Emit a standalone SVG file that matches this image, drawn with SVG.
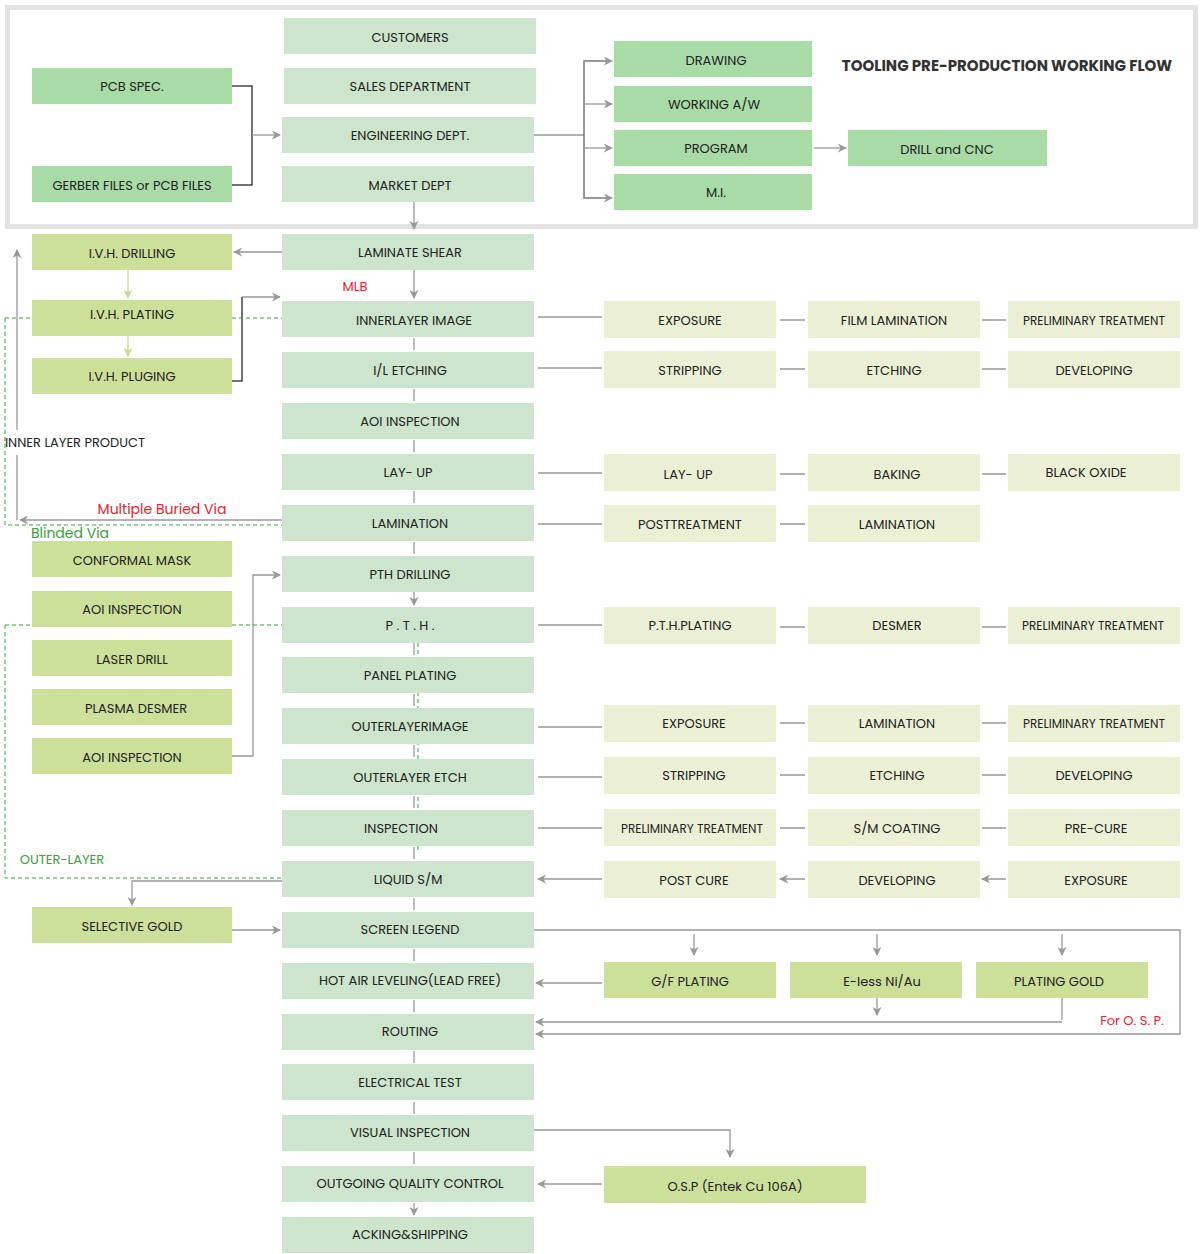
<svg xmlns="http://www.w3.org/2000/svg" width="1200" height="1254" viewBox="0 0 1200 1254">
<defs>
<marker id="a" viewBox="0 0 10 10" refX="9" refY="5" markerWidth="9" markerHeight="9" orient="auto" markerUnits="userSpaceOnUse"><path d="M0,0 L10,5 L0,10 L3,5 Z" fill="#999"/></marker>
<marker id="g" viewBox="0 0 10 10" refX="9" refY="5" markerWidth="9" markerHeight="9" orient="auto" markerUnits="userSpaceOnUse"><path d="M0,0 L10,5 L0,10 L3,5 Z" fill="#c5dc8e"/></marker>
</defs>
<style>
text{font-family:Poppins,"Open Sans","Liberation Sans",sans-serif;font-size:13px;fill:#222;text-anchor:middle;dominant-baseline:central}
.m{fill:#cde5cc}.t{fill:#a8dba6}.l{fill:#cde09a}.r{fill:#ebf0d5}
.c{stroke:#999;stroke-width:1.3;fill:none}
.k{stroke:#444;stroke-width:1.5;fill:none}
.d{stroke:#3aa03a;stroke-width:1;stroke-dasharray:4 3;fill:none}
</style>
<rect x="7.5" y="7.5" width="1188" height="219" fill="#fff" stroke="#e3e3e3" stroke-width="5"/>
<text x="1007" y="65" style="font-weight:bold;font-size:15px;fill:#333">TOOLING PRE-PRODUCTION WORKING FLOW</text>
<g id="connectors">
<path class="k" d="M232,86 H252 V185 H232"/>
<path class="c" d="M252,135 H280" marker-end="url(#a)"/>
<path class="c" d="M534,135 H584"/>
<path class="k" d="M612,61 H584 V198 H612" style="stroke:#777"/>
<path class="c" d="M584,61 H612" marker-end="url(#a)"/>
<path class="c" d="M584,104 H612" marker-end="url(#a)"/>
<path class="c" d="M584,148 H612" marker-end="url(#a)"/>
<path class="c" d="M584,198 H612" marker-end="url(#a)"/>
<path class="c" d="M814,148 H846" marker-end="url(#a)"/>
<path class="c" d="M414,202 V229" marker-end="url(#a)"/>
<path class="c" d="M282,252 H234" marker-end="url(#a)"/>
<path class="c" d="M414,270 V298" marker-end="url(#a)"/>
<path class="c" d="M128,252 V298" style="stroke:#c5dc8e" marker-end="url(#g)"/>
<path class="c" d="M128,336 V356" style="stroke:#c5dc8e" marker-end="url(#g)"/>
<path class="k" d="M232,381 H242 V297"/>
<path class="c" d="M242,297 H280" marker-end="url(#a)"/>
<path class="d" d="M5,318 H32 M232,318 H282 M5,318 V525 H282"/>
<path class="c" d="M282,520 H20" marker-end="url(#a)"/>
<path class="c" d="M17,520 V455 M17,430 V250" marker-end="url(#a)"/>
<path class="c" d="M414,590 V605" marker-end="url(#a)"/>
<path class="c" d="M232,756 H253 V575 H280" marker-end="url(#a)"/>
<path class="d" d="M5,625 H32 M232,625 H282 M5,625 V878 H282"/>
<path class="c" d="M282,881 H132 V905" marker-end="url(#a)"/>
<path class="c" d="M232,930 H280" marker-end="url(#a)"/>
<path class="c" d="M534,930 H1180 V1034 H536" marker-end="url(#a)"/>
<path class="c" d="M694,934 V955" marker-end="url(#a)"/>
<path class="c" d="M877,934 V955" marker-end="url(#a)"/>
<path class="c" d="M1062,934 V955" marker-end="url(#a)"/>
<path class="c" d="M877,998 V1015" marker-end="url(#a)"/>
<path class="c" d="M1062,998 V1020"/>
<path class="c" d="M1062,1022 H536" marker-end="url(#a)"/>
<path class="c" d="M602,983 H536" marker-end="url(#a)"/>
<path class="c" d="M534,1130 H730 V1157" marker-end="url(#a)"/>
<path class="c" d="M602,1184 H538" marker-end="url(#a)"/>
<path class="c" d="M414,338 V350 M414,389 V401 M414,440 V452 M414,491 V503 M414,542 V554 M414,643 V655 M414,694 V706 M414,745 V757 M414,796 V808 M414,847 V859 M414,898 V910 M414,949 V961 M414,1000 V1012 M414,1051 V1063 M414,1102 V1114 M414,1152 V1164 M414,1203 V1215" marker-end="url(#a)"/>
<path class="d" d="M418,643 V850"/>
<path class="c" d="M602,317 H538 M602,368 H538 M602,473 H538 M602,524 H538 M602,625 H538 M602,727 H538 M602,777 H538 M602,828 H538 M602,879 H538" marker-end="url(#a)"/>
<path class="c" d="M805,320 H780 M805,369 H780 M805,474 H780 M805,524 H780 M805,627 H780 M805,723 H780 M805,775 H780 M805,828 H780 M805,879 H780" marker-end="url(#a)"/>
<path class="c" d="M1006,320 H982 M1006,369 H982 M1006,474 H982 M1006,627 H982 M1006,723 H982 M1006,775 H982 M1006,828 H982 M1006,879 H982" marker-end="url(#a)"/>
</g>
<g id="labels">
<text x="355" y="286" style="fill:#e8232a">MLB</text>
<text x="75" y="442">INNER LAYER PRODUCT</text>
<text x="162" y="509" style="fill:#e8232a;font-size:14px">Multiple Buried Via</text>
<text x="70" y="533" style="fill:#3aa03a;font-size:14px">Blinded Via</text>
<text x="62" y="859" style="fill:#3aa03a">OUTER-LAYER</text>
<text x="1132" y="1020" style="fill:#e8232a">For O. S. P.</text>
</g>
<g id="n-customers"><rect class="m" x="284" y="18" width="252" height="36"/><text x="410" y="37">CUSTOMERS</text></g>
<g id="n-sales"><rect class="m" x="284" y="68" width="252" height="36"/><text x="410" y="86">SALES DEPARTMENT</text></g>
<g id="n-eng"><rect class="m" x="282" y="117" width="252" height="36"/><text x="410" y="135">ENGINEERING DEPT.</text></g>
<g id="n-market"><rect class="m" x="282" y="166" width="252" height="36"/><text x="410" y="185">MARKET DEPT</text></g>
<g id="n-pcbspec"><rect class="t" x="32" y="68" width="200" height="36"/><text x="132" y="86">PCB SPEC.</text></g>
<g id="n-gerber"><rect class="t" x="32" y="166" width="200" height="36"/><text x="132" y="185">GERBER FILES or PCB FILES</text></g>
<g id="n-drawing"><rect class="t" x="614" y="41" width="198" height="36"/><text x="716" y="60">DRAWING</text></g>
<g id="n-working"><rect class="t" x="614" y="86" width="198" height="36"/><text x="714" y="104">WORKING A/W</text></g>
<g id="n-program"><rect class="t" x="614" y="130" width="198" height="36"/><text x="716" y="148">PROGRAM</text></g>
<g id="n-mi"><rect class="t" x="614" y="174" width="198" height="36"/><text x="716" y="192">M.I.</text></g>
<g id="n-drill"><rect class="t" x="848" y="130" width="199" height="36"/><text x="947" y="149">DRILL and CNC</text></g>
<g id="n-ivhd"><rect class="l" x="32" y="234" width="200" height="36"/><text x="132" y="253">I.V.H.  DRILLING</text></g>
<g id="n-ivhp"><rect class="l" x="32" y="300" width="200" height="36"/><text x="132" y="314">I.V.H.  PLATING</text></g>
<g id="n-ivhg"><rect class="l" x="32" y="358" width="200" height="36"/><text x="132" y="376">I.V.H.  PLUGING</text></g>
<g id="n-conf"><rect class="l" x="32" y="541" width="200" height="36"/><text x="132" y="560">CONFORMAL MASK</text></g>
<g id="n-aoi1"><rect class="l" x="32" y="591" width="200" height="36"/><text x="132" y="609">AOI INSPECTION</text></g>
<g id="n-laser"><rect class="l" x="32" y="640" width="200" height="36"/><text x="132" y="659">LASER DRILL</text></g>
<g id="n-plasma"><rect class="l" x="32" y="689" width="200" height="36"/><text x="136" y="708">PLASMA DESMER</text></g>
<g id="n-aoi2"><rect class="l" x="32" y="738" width="200" height="36"/><text x="132" y="757">AOI INSPECTION</text></g>
<g id="n-selgold"><rect class="l" x="32" y="907" width="200" height="36"/><text x="132" y="926">SELECTIVE GOLD</text></g>
<g id="n-shear"><rect class="m" x="282" y="234" width="252" height="36"/><text x="410" y="252">LAMINATE SHEAR</text></g>
<g id="n-inner"><rect class="m" x="282" y="301" width="252" height="36"/><text x="414" y="320">INNERLAYER IMAGE</text></g>
<g id="n-iletch"><rect class="m" x="282" y="352" width="252" height="36"/><text x="410" y="370">I/L  ETCHING</text></g>
<g id="n-aoi"><rect class="m" x="282" y="403" width="252" height="36"/><text x="410" y="421">AOI  INSPECTION</text></g>
<g id="n-layup"><rect class="m" x="282" y="454" width="252" height="36"/><text x="408" y="472">LAY- UP</text></g>
<g id="n-lam"><rect class="m" x="282" y="505" width="252" height="36"/><text x="410" y="523">LAMINATION</text></g>
<g id="n-pthd"><rect class="m" x="282" y="556" width="252" height="36"/><text x="410" y="574">PTH DRILLING</text></g>
<g id="n-pth"><rect class="m" x="282" y="607" width="252" height="36"/><text x="410" y="625">P . T . H .</text></g>
<g id="n-panel"><rect class="m" x="282" y="657" width="252" height="36"/><text x="410" y="675">PANEL PLATING</text></g>
<g id="n-outimg"><rect class="m" x="282" y="708" width="252" height="36"/><text x="410" y="726">OUTERLAYERIMAGE</text></g>
<g id="n-outetch"><rect class="m" x="282" y="759" width="252" height="36"/><text x="410" y="777">OUTERLAYER ETCH</text></g>
<g id="n-insp"><rect class="m" x="282" y="810" width="252" height="36"/><text x="401" y="828">INSPECTION</text></g>
<g id="n-lsm"><rect class="m" x="282" y="861" width="252" height="36"/><text x="408" y="879">LIQUID  S/M</text></g>
<g id="n-screen"><rect class="m" x="282" y="912" width="252" height="36"/><text x="410" y="929">SCREEN LEGEND</text></g>
<g id="n-hal"><rect class="m" x="282" y="963" width="252" height="36"/><text x="410" y="980">HOT AIR LEVELING(LEAD FREE)</text></g>
<g id="n-routing"><rect class="m" x="282" y="1014" width="252" height="36"/><text x="410" y="1031">ROUTING</text></g>
<g id="n-et"><rect class="m" x="282" y="1064" width="252" height="36"/><text x="410" y="1082">ELECTRICAL TEST</text></g>
<g id="n-vis"><rect class="m" x="282" y="1115" width="252" height="36"/><text x="410" y="1132">VISUAL INSPECTION</text></g>
<g id="n-oqc"><rect class="m" x="282" y="1166" width="252" height="36"/><text x="410" y="1183">OUTGOING QUALITY CONTROL</text></g>
<g id="n-ship"><rect class="m" x="282" y="1217" width="252" height="36"/><text x="410" y="1234">ACKING&amp;SHIPPING</text></g>
<g id="n-r1a"><rect class="r" x="604" y="301" width="172" height="37"/><text x="690" y="320">EXPOSURE</text></g>
<g id="n-r1b"><rect class="r" x="808" y="301" width="172" height="37"/><text x="894" y="320">FILM LAMINATION</text></g>
<g id="n-r1c"><rect class="r" x="1008" y="301" width="172" height="37"/><text x="1094" y="320" style="font-size:12px">PRELIMINARY   TREATMENT</text></g>
<g id="n-r2a"><rect class="r" x="604" y="351" width="172" height="37"/><text x="690" y="370">STRIPPING</text></g>
<g id="n-r2b"><rect class="r" x="808" y="351" width="172" height="37"/><text x="894" y="370">ETCHING</text></g>
<g id="n-r2c"><rect class="r" x="1008" y="351" width="172" height="37"/><text x="1094" y="370">DEVELOPING</text></g>
<g id="n-r3a"><rect class="r" x="604" y="454" width="172" height="37"/><text x="688" y="474">LAY- UP</text></g>
<g id="n-r3b"><rect class="r" x="808" y="454" width="172" height="37"/><text x="897" y="474">BAKING</text></g>
<g id="n-r3c"><rect class="r" x="1008" y="454" width="172" height="37"/><text x="1086" y="472">BLACK OXIDE</text></g>
<g id="n-r4a"><rect class="r" x="604" y="505" width="172" height="37"/><text x="690" y="524">POSTTREATMENT</text></g>
<g id="n-r4b"><rect class="r" x="808" y="505" width="172" height="37"/><text x="897" y="524">LAMINATION</text></g>
<g id="n-r5a"><rect class="r" x="604" y="607" width="172" height="37"/><text x="690" y="625">P.T.H.PLATING</text></g>
<g id="n-r5b"><rect class="r" x="808" y="607" width="172" height="37"/><text x="897" y="625">DESMER</text></g>
<g id="n-r5c"><rect class="r" x="1008" y="607" width="172" height="37"/><text x="1093" y="625" style="font-size:12px">PRELIMINARY  TREATMENT</text></g>
<g id="n-r6a"><rect class="r" x="604" y="705" width="172" height="37"/><text x="694" y="723">EXPOSURE</text></g>
<g id="n-r6b"><rect class="r" x="808" y="705" width="172" height="37"/><text x="897" y="723">LAMINATION</text></g>
<g id="n-r6c"><rect class="r" x="1008" y="705" width="172" height="37"/><text x="1094" y="723" style="font-size:12px">PRELIMINARY    TREATMENT</text></g>
<g id="n-r7a"><rect class="r" x="604" y="757" width="172" height="37"/><text x="694" y="775">STRIPPING</text></g>
<g id="n-r7b"><rect class="r" x="808" y="757" width="172" height="37"/><text x="897" y="775">ETCHING</text></g>
<g id="n-r7c"><rect class="r" x="1008" y="757" width="172" height="37"/><text x="1094" y="775">DEVELOPING</text></g>
<g id="n-r8a"><rect class="r" x="604" y="809" width="172" height="37"/><text x="692" y="828" style="font-size:12px">PRELIMINARY  TREATMENT</text></g>
<g id="n-r8b"><rect class="r" x="808" y="809" width="172" height="37"/><text x="897" y="828">S/M COATING</text></g>
<g id="n-r8c"><rect class="r" x="1008" y="809" width="172" height="37"/><text x="1096" y="828">PRE-CURE</text></g>
<g id="n-r9a"><rect class="r" x="604" y="861" width="172" height="37"/><text x="694" y="880">POST CURE</text></g>
<g id="n-r9b"><rect class="r" x="808" y="861" width="172" height="37"/><text x="897" y="880">DEVELOPING</text></g>
<g id="n-r9c"><rect class="r" x="1008" y="861" width="172" height="37"/><text x="1096" y="880">EXPOSURE</text></g>
<g id="n-gf"><rect class="l" x="604" y="962" width="172" height="36"/><text x="690" y="981">G/F PLATING</text></g>
<g id="n-eless"><rect class="l" x="790" y="962" width="172" height="36"/><text x="882" y="981">E-less Ni/Au</text></g>
<g id="n-pgold"><rect class="l" x="976" y="962" width="172" height="36"/><text x="1059" y="981">PLATING GOLD</text></g>
<g id="n-osp"><rect class="l" x="604" y="1166" width="262" height="37"/><text x="735" y="1186">O.S.P (Entek Cu 106A)</text></g>
</svg>
